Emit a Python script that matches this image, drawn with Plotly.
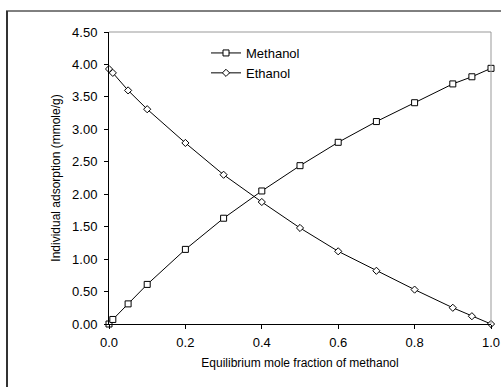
import plotly.graph_objects as go

x_frac = [0, 0.01, 0.05, 0.1, 0.2, 0.3, 0.4, 0.5, 0.6, 0.7, 0.8, 0.9, 0.95, 1.0]
methanol = [0.00, 0.07, 0.31, 0.61, 1.15, 1.63, 2.05, 2.44, 2.80, 3.12, 3.41, 3.70, 3.81, 3.94]
ethanol = [3.93, 3.87, 3.60, 3.31, 2.79, 2.30, 1.88, 1.48, 1.12, 0.82, 0.53, 0.25, 0.12, 0.00]

W, H = 501, 387
L, R, T, B = 109, 10, 32, 63
pw, ph = W - L - R, H - T - B

def px(x):
    return (x - L) / pw

def py(y):
    return (H - B - y) / ph

font = "Liberation Sans, Arial, sans-serif"

fig = go.Figure()
fig.add_trace(go.Scatter(
    x=x_frac, y=methanol, name="Methanol", mode="lines+markers",
    line=dict(color="black", width=1),
    marker=dict(symbol="square", size=6, color="white", line=dict(color="black", width=1)),
    cliponaxis=False,
))
fig.add_trace(go.Scatter(
    x=x_frac, y=ethanol, name="Ethanol", mode="lines+markers",
    line=dict(color="black", width=1),
    marker=dict(symbol="diamond", size=5.5, color="white", line=dict(color="black", width=1)),
    cliponaxis=False,
))

fig.update_layout(
    width=W, height=H,
    autosize=False,
    margin=dict(l=L, r=R, t=T, b=B, autoexpand=False),
    paper_bgcolor="white", plot_bgcolor="white",
    font=dict(family=font, size=12, color="black"),
    showlegend=True,
    legend=dict(x=px(206), y=py(38), xanchor="left", yanchor="top",
                bgcolor="rgba(0,0,0,0)", font=dict(size=13, family=font),
                tracegroupgap=0, itemwidth=30),
    xaxis=dict(range=[0, 1], dtick=0.2, tickformat=".1f", showgrid=False,
               zeroline=False, showline=True, linecolor="black", linewidth=1,
               ticks="outside", ticklen=4, tickcolor="black", ticklabelstandoff=2,
               title=dict(text="Equilibrium mole fraction of methanol", font=dict(size=12), standoff=10),
               tickfont=dict(size=13)),
    yaxis=dict(range=[0, 4.5], dtick=0.5, tickformat=".2f", showgrid=False,
               zeroline=False, showline=True, linecolor="black", linewidth=1,
               ticks="outside", ticklen=4, tickcolor="black", ticklabelstandoff=4,
               title=dict(text="Individual adsorption (mmole/g)", font=dict(size=12), standoff=8),
               tickfont=dict(size=13)),
    shapes=[
        dict(type="line", xref="paper", yref="paper", x0=0, x1=1, y0=1, y1=1,
             line=dict(color="#999999", width=1)),
        dict(type="line", xref="paper", yref="paper", x0=1, x1=1, y0=0, y1=1,
             line=dict(color="#999999", width=1)),
        dict(type="line", xref="paper", yref="paper", x0=px(6), x1=px(W), y0=py(11), y1=py(11),
             line=dict(color="black", width=1)),
        dict(type="line", xref="paper", yref="paper", x0=px(7), x1=px(7), y0=py(11), y1=py(H),
             line=dict(color="#333333", width=2)),
    ],
)

fig.write_html("out.html", config={"displayModeBar": False})
